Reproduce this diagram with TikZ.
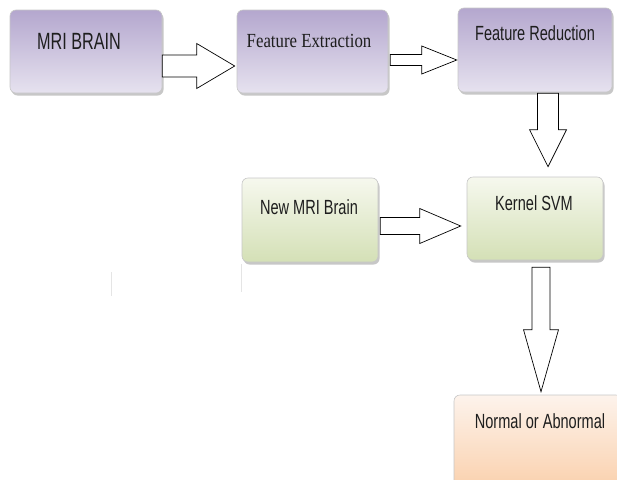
\documentclass[tikz,border=0pt]{standalone}
\usepackage{fontspec}
\usetikzlibrary{calc,shadows}
\newfontfamily\boxsans[FakeStretch=0.71]{Liberation Sans}
\newfontfamily\bigsans[FakeStretch=0.69]{Liberation Sans}
\newfontfamily\boxserif[FakeStretch=0.84]{Liberation Serif}
\definecolor{purpA}{RGB}{180,167,206}
\definecolor{purpB}{RGB}{216,210,231}
\definecolor{purpC}{RGB}{230,226,239}
\definecolor{greenA}{RGB}{246,248,238}
\definecolor{greenB}{RGB}{212,224,182}
\definecolor{peachA}{RGB}{253,243,236}
\definecolor{peachB}{RGB}{250,208,172}
\definecolor{txt}{RGB}{30,30,30}
\newcommand{\hblock}[5]{%
  \draw[barrow] ($(#1)+(0,-#3)$) -- ($(#2)+(-#5,-#3)$) -- ($(#2)+(-#5,-#4)$) -- (#2)
    -- ($(#2)+(-#5,#4)$) -- ($(#2)+(-#5,#3)$) -- ($(#1)+(0,#3)$) -- cycle;}
\newcommand{\vblock}[5]{%
  \draw[barrow] ($(#1)+(-#3,0)$) -- ($(#2)+(-#3,-#5)$) -- ($(#2)+(-#4,-#5)$) -- (#2)
    -- ($(#2)+(#4,-#5)$) -- ($(#2)+(#3,-#5)$) -- ($(#1)+(#3,0)$) -- cycle;}
\tikzset{
  boxbase/.style={rectangle, rounded corners=6pt, draw=black!22, line width=0.6pt,
    inner sep=0pt, drop shadow={shadow xshift=1.5pt, shadow yshift=-2.5pt, opacity=0.4, fill=black!55}},
  purplebox/.style={boxbase, top color=purpA, middle color=purpB, bottom color=purpC},
  greenbox/.style={boxbase, top color=greenA, bottom color=greenB},
  peachbox/.style={boxbase, top color=peachA, bottom color=peachB},
  lab/.style={inner sep=0pt, text=txt, font=\boxsans\fontsize{20.5}{24}\selectfont},
  barrow/.style={draw=black, line width=0.7pt, fill=white, line join=miter},
  faint/.style={draw=black!10, line width=0.8pt}
}
\begin{document}
\begin{tikzpicture}[x=1pt,y=-1pt]
\useasboundingbox (0,0) rectangle (617,479);
\fill[white] (0,0) rectangle (617,479);
% boxes
\node[purplebox, minimum width=152pt, minimum height=83pt] (mri) at (86,51.5) {};
\node[purplebox, minimum width=151pt, minimum height=83pt] (fe) at (312.5,51.5) {};
\node[purplebox, minimum width=154pt, minimum height=84pt] (fr) at (535,50) {};
\node[greenbox, minimum width=136pt, minimum height=84pt] (nmb) at (310,220) {};
\node[greenbox, minimum width=136pt, minimum height=83pt] (ksvm) at (535,218.5) {};
\node[peachbox, minimum width=168pt, minimum height=95pt] (normal) at (538,442.5) {};
% texts
\node[lab, font=\bigsans\fontsize{23.5}{27}\selectfont] (t1) at (79,41) {MRI BRAIN};
\node[lab, font=\boxserif\fontsize{20}{23}\selectfont] (t2) at (309,41) {Feature Extraction};
\node[lab] (t3) at (535,33) {Feature Reduction};
\node[lab] (t4) at (309,207) {New MRI Brain};
\node[lab] (t5) at (534,203) {Kernel SVM};
\node[lab] (t6) at (540,421) {Normal or Abnormal};
% arrow end points
\coordinate (a1s) at ($(mri.east)+(0,14.5)$);
\coordinate (a1t) at ($(fe.west)+(-2,14.5)$);
\coordinate (a2s) at ($(fe.east)+(2,8.5)$);
\coordinate (a2t) at ($(fr.west)+(-1,10)$);
\coordinate (a3s) at ($(fr.south)+(13,1)$);
\coordinate (a3t) at ($(ksvm.north)+(13,-10)$);
\coordinate (a4s) at ($(nmb.east)+(2,6)$);
\coordinate (a4t) at ($(ksvm.west)+(-6,7.5)$);
\coordinate (a5s) at ($(ksvm.south)+(6,7)$);
\coordinate (a5t) at ($(normal.north)+(3,-3)$);
% block arrows
\hblock{a1s}{a1t}{11}{22.5}{38}
\hblock{a2s}{a2t}{5.5}{14}{35}
\vblock{a3s}{a3t}{10.5}{18.5}{37}
\hblock{a4s}{a4t}{8.5}{17.5}{41}
\vblock{a5s}{a5t}{9}{17.5}{62}
% faint lines
\coordinate (f1a) at ($(nmb.south west)+(0,2)$);
\coordinate (f1b) at ($(nmb.south west)+(0,30)$);
\draw[faint] (f1a) -- (f1b);
\coordinate (f2a) at (111,272);
\coordinate (f2b) at (111,296);
\draw[faint] (f2a) -- (f2b);
\end{tikzpicture}
\end{document}
